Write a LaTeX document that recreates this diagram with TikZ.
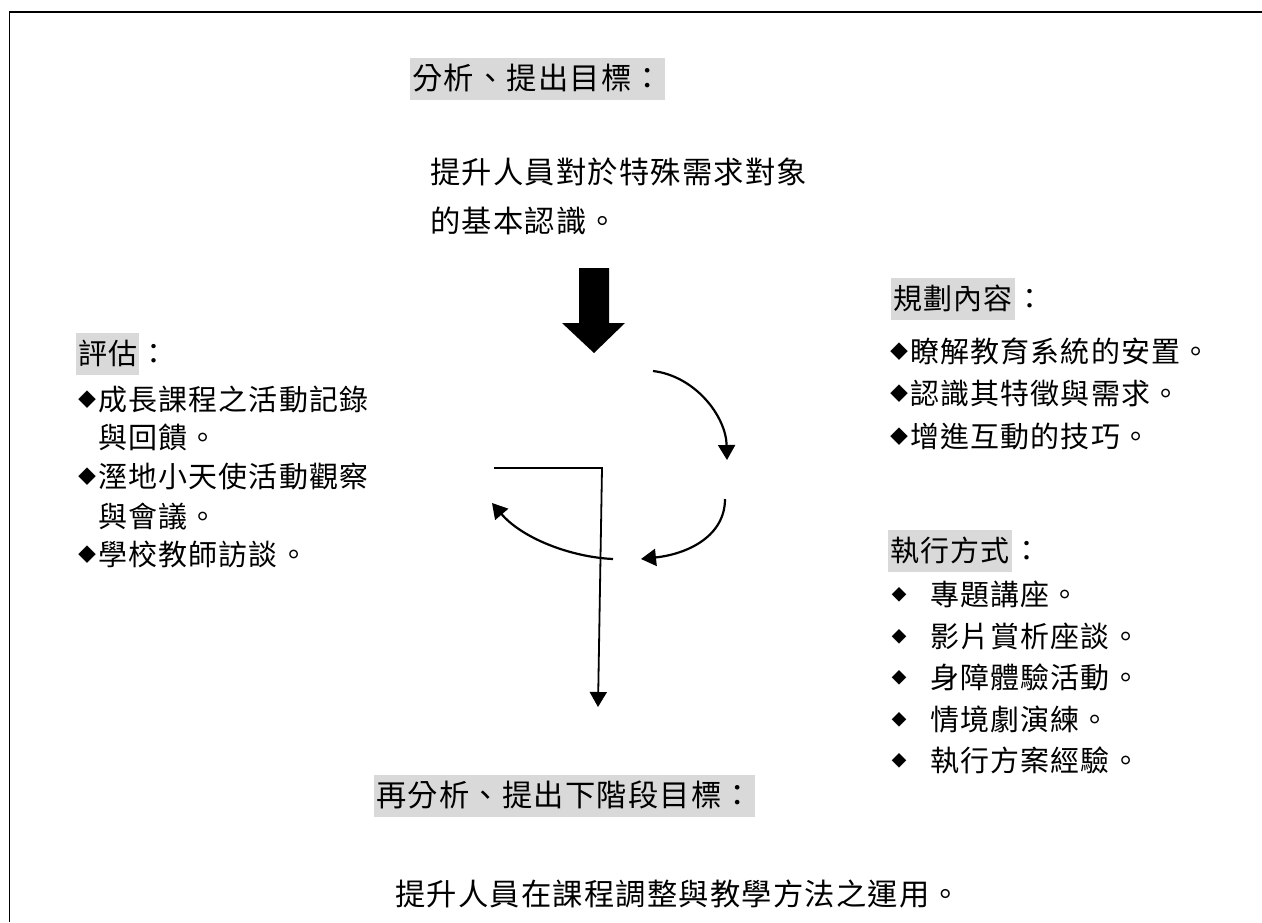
\documentclass[tikz,border=0pt]{standalone}
\usepackage{fontspec}
\newfontfamily\cjk[LetterSpace=4]{Noto Sans CJK TC}
\newfontfamily\cjkplain{Noto Sans CJK TC}
\usetikzlibrary{arrows.meta}
\definecolor{hlgray}{HTML}{D9D9D9}
\tikzset{
  txt/.style={anchor=west, inner sep=0pt, font={\cjk\fontsize{29}{29}\selectfont}, text height=25pt, text depth=4pt},
  big/.style={anchor=west, inner sep=0pt, font={\cjk\fontsize{30.3}{30.3}\selectfont}, text height=26pt, text depth=4.3pt},
  hl/.style={fill=hlgray, inner xsep=2pt, inner ysep=0pt, minimum height=42pt},
  bul/.style={inner sep=0pt, font={\cjkplain\fontsize{18}{18}\selectfont}},
  bulsmall/.style={inner sep=0pt, font={\cjkplain\fontsize{15}{15}\selectfont}},
  conn/.style={line width=2.2pt, -{Triangle[length=15pt,width=17pt]}},
  frame/.style={line width=1.5pt},
}
\begin{document}
\begin{tikzpicture}[x=1pt,y=-1pt]
\useasboundingbox (0,0) rectangle (1262,922);
% frame
\coordinate (fbl) at (9.5,922);
\coordinate (ftl) at (9.5,12);
\coordinate (ftr) at (1262,12);
\draw[frame] (fbl) -- (ftl) -- (ftr);

% top goal
\node[big,hl] (goal) at (410,79) {分析、提出目標：};
\node[big] (goal1) at (430,173) {提升人員對於特殊需求對象};
\node[big] (goal2) at (430,222) {的基本認識。};

% block arrow
\fill (579,268) -- (609,268) -- (609,323) -- (625,323) -- (594,353) -- (562,323) -- (579,323) -- cycle;

% left panel
\node[txt,hl] (evalh) at (76,354) {評估};
\node[txt] (evalc) at (evalh.east) {：};
\node[bul] (lb1) at (87.5,400) {◆};
\node[txt] (l1) at (98,400) {成長課程之活動記錄};
\node[txt] (l1b) at (98,438) {與回饋。};
\node[bul] (lb2) at (87.5,477) {◆};
\node[txt] (l2) at (98,477) {溼地小天使活動觀察};
\node[txt] (l2b) at (98,517) {與會議。};
\node[bul] (lb3) at (87.5,555) {◆};
\node[txt] (l3) at (98,555) {學校教師訪談。};

% right panel: plan
\node[txt,hl] (planh) at (891,299) {規劃內容};
\node[txt] (planc) at (planh.east) {：};
\node[bul] (rb1) at (899,352) {◆};
\node[txt] (r1) at (910,352) {瞭解教育系統的安置。};
\node[bul] (rb2) at (899,394) {◆};
\node[txt] (r2) at (910,394) {認識其特徵與需求。};
\node[bul] (rb3) at (899,437) {◆};
\node[txt] (r3) at (910,437) {增進互動的技巧。};

% right panel: execution
\node[txt,hl] (exeh) at (888,551) {執行方式};
\node[txt] (exec) at (exeh.east) {：};
\node[bulsmall] (eb1) at (899,595) {◆};
\node[txt] (e1) at (930,595) {專題講座。};
\node[bulsmall] (eb2) at (899,637) {◆};
\node[txt] (e2) at (930,637) {影片賞析座談。};
\node[bulsmall] (eb3) at (899,678) {◆};
\node[txt] (e3) at (930,678) {身障體驗活動。};
\node[bulsmall] (eb4) at (899,720) {◆};
\node[txt] (e4) at (930,720) {情境劇演練。};
\node[bulsmall] (eb5) at (899,761) {◆};
\node[txt] (e5) at (930,761) {執行方案經驗。};

% bottom
\node[big,hl] (next) at (374,796) {再分析、提出下階段目標：};
\node[big] (nexttxt) at (395,895) {提升人員在課程調整與教學方法之運用。};

% cycle arrows
\coordinate (a1s) at (653,371);
\coordinate (a1e) at (727,460);
\coordinate (a2s) at (725,499);
\coordinate (a2e) at (641,559);
\coordinate (a3s) at (613,559);
\coordinate (a3e) at (492,503);
\coordinate (ls) at (494,468);
\coordinate (lc) at (602,468);
\coordinate (le) at (598,707);
\draw[conn] (a1s) .. controls (695,376) and (726,416) .. (a1e);
\draw[conn] (a2s) .. controls (725,536) and (688,554) .. (a2e);
\draw[conn] (a3s) .. controls (570,557) and (522,538) .. (a3e);
\draw[conn, line width=1.8pt] (ls) -- (lc) -- (le);
\end{tikzpicture}
\end{document}
